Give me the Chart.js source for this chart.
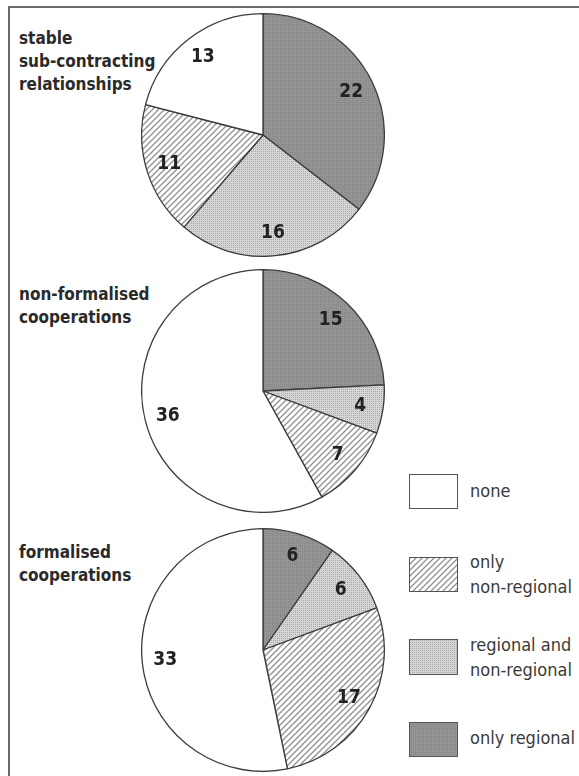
<!DOCTYPE html>
<html>
<head>
<meta charset="utf-8">
<script src="https://cdn.jsdelivr.net/npm/chart.js@4/dist/chart.umd.min.js"></script>
<style>
  html, body { margin: 0; padding: 0; background: #fff; }
  body { width: 579px; height: 776px; position: relative; overflow: hidden;
         font-family: "Liberation Sans Narrow", "DejaVu Sans Condensed", "Liberation Sans", sans-serif; }
  .frame { position: absolute; left: 8px; top: 6px; right: -4px; bottom: -4px;
           border-top: 2px solid #6a6a6a; border-left: 2px solid #6a6a6a; }
  .pie { position: absolute; }
  .title { position: absolute; left: 19px; font-weight: bold; font-size: 17px;
           line-height: 23px; color: #2a2a2a; white-space: nowrap; }
  .swatch { position: absolute; left: 409px; width: 47px; border: 1.5px solid #555; }
  .ltext { position: absolute; left: 470px; font-size: 18px; line-height: 25px;
           color: #3a3a3a; white-space: nowrap; }
</style>
</head>
<body>
<div class="frame"></div>
<div id="root"></div>
<script>
// Categories, listed clockwise from 12 o'clock in every pie
const categories = ['only regional', 'regional and non-regional', 'only non-regional', 'none'];

// Counts per type of cooperation
const stableSubcontracting = [22, 16, 11, 13];
const nonFormalisedCoop = [15, 4, 7, 36];
const formalisedCoop = [6, 6, 17, 33];

// Panel titles (one line per entry)
const titleStable = ['stable', 'sub-contracting', 'relationships'];
const titleNonFormalised = ['non-formalised', 'cooperations'];
const titleFormalised = ['formalised', 'cooperations'];

// Legend entries, top to bottom
const legendOrder = ['none', 'only non-regional', 'regional and non-regional', 'only regional'];
const legendLines = [['none'], ['only', 'non-regional'], ['regional and', 'non-regional'], ['only regional']];

// Fill textures
function makeTile(w, h, draw) {
  const c = document.createElement('canvas');
  c.width = w; c.height = h;
  draw(c.getContext('2d'), w, h);
  return c;
}
const tiles = {
  'none': makeTile(2, 2, (g) => { g.fillStyle = '#ffffff'; g.fillRect(0, 0, 2, 2); }),
  'only non-regional': makeTile(6, 6, (g, w, h) => {
    g.fillStyle = '#ffffff'; g.fillRect(0, 0, w, h);
    g.strokeStyle = '#909090'; g.lineWidth = 1.3;
    g.beginPath();
    g.moveTo(-1, h + 1); g.lineTo(w + 1, -1);
    g.moveTo(-1, 1); g.lineTo(1, -1);
    g.moveTo(w - 1, h + 1); g.lineTo(w + 1, h - 1);
    g.stroke();
  }),
  'regional and non-regional': makeTile(2, 2, (g) => {
    g.fillStyle = '#d6d6d6'; g.fillRect(0, 0, 2, 2);
    g.fillStyle = '#a9a9a9'; g.fillRect(0, 0, 1, 1);
  }),
  'only regional': makeTile(2, 2, (g) => {
    g.fillStyle = '#959595'; g.fillRect(0, 0, 2, 2);
    g.fillStyle = '#838383'; g.fillRect(1, 1, 1, 1);
  })
};
function fillFor(ctx, cat) { return ctx.createPattern(tiles[cat], 'repeat'); }

// Value labels inside each slice
const sliceValueLabels = {
  id: 'sliceValueLabels',
  afterDatasetsDraw(chart) {
    const ctx = chart.ctx;
    const meta = chart.getDatasetMeta(0);
    const values = chart.data.datasets[0].data;
    ctx.save();
    ctx.font = 'bold 19px "Liberation Sans Narrow", "DejaVu Sans Condensed", sans-serif';
    ctx.fillStyle = '#222';
    ctx.textAlign = 'center';
    ctx.textBaseline = 'middle';
    meta.data.forEach((arc, i) => {
      const p = arc.getProps(['x', 'y', 'startAngle', 'endAngle', 'outerRadius'], true);
      const mid = (p.startAngle + p.endAngle) / 2;
      const r = p.outerRadius * 0.81;
      ctx.fillText(String(values[i]), p.x + Math.cos(mid) * r, p.y + Math.sin(mid) * r);
    });
    ctx.restore();
  }
};

const panels = [
  { values: stableSubcontracting, title: titleStable, top: 13, titleTop: 27 },
  { values: nonFormalisedCoop, title: titleNonFormalised, top: 269, titleTop: 283 },
  { values: formalisedCoop, title: titleFormalised, top: 528, titleTop: 541 }
];

const root = document.getElementById('root');
panels.forEach((pnl) => {
  const t = document.createElement('div');
  t.className = 'title';
  t.style.top = pnl.titleTop + 'px';
  t.innerHTML = pnl.title.join('<br>');
  root.appendChild(t);

  const cv = document.createElement('canvas');
  cv.className = 'pie';
  cv.width = 244; cv.height = 244;
  cv.style.left = '141px';
  cv.style.top = pnl.top + 'px';
  cv.style.width = '244px'; cv.style.height = '244px';
  root.appendChild(cv);
  const ctx = cv.getContext('2d');

  new Chart(cv, {
    type: 'pie',
    data: {
      labels: categories,
      datasets: [{
        data: pnl.values,
        backgroundColor: categories.map((c) => fillFor(ctx, c)),
        borderColor: '#3c3c3c',
        borderWidth: 1.3,
        borderAlign: 'center'
      }]
    },
    options: {
      responsive: false,
      animation: false,
      events: [],
      layout: { padding: 0 },
      plugins: { legend: { display: false }, tooltip: { enabled: false } }
    },
    plugins: [sliceValueLabels]
  });
});

// Legend
const swatchTops = [474, 557, 639, 722];
const swatchHeights = [33, 33, 34, 33];
const textTops = [478, 549, 632, 725];
legendOrder.forEach((cat, i) => {
  const s = document.createElement('div');
  s.className = 'swatch';
  s.style.top = swatchTops[i] + 'px';
  s.style.height = swatchHeights[i] + 'px';
  s.style.backgroundImage = 'url(' + tiles[cat].toDataURL() + ')';
  root.appendChild(s);
  const t = document.createElement('div');
  t.className = 'ltext';
  t.style.top = textTops[i] + 'px';
  t.innerHTML = legendLines[i].join('<br>');
  root.appendChild(t);
});
</script>
</body>
</html>
